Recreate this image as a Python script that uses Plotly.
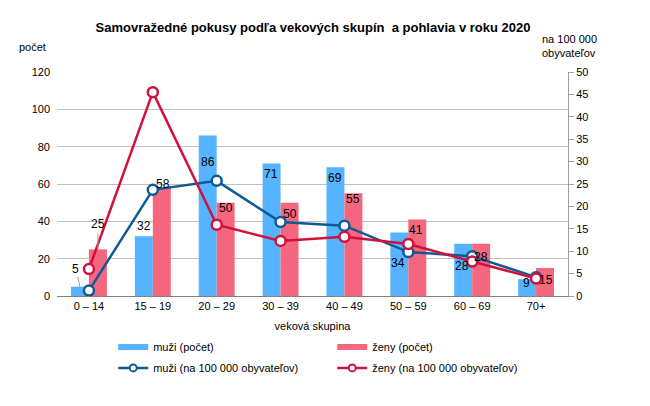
import plotly.graph_objects as go

categories = ["0 – 14", "15 – 19", "20 – 29", "30 – 39", "40 – 49", "50 – 59", "60 – 69", "70+"]
muzi_pocet = [5, 32, 86, 71, 69, 34, 28, 9]
zeny_pocet = [25, 58, 50, 50, 55, 41, 28, 15]
muzi_na100k = [1.2, 23.7, 25.7, 16.5, 15.7, 9.8, 8.9, 4.2]
zeny_na100k = [6.0, 45.5, 15.9, 12.3, 13.2, 11.6, 7.7, 3.9]

left_ticks = [0, 20, 40, 60, 80, 100, 120]
right_ticks = [0, 5, 10, 15, 20, 25, 30, 35, 40, 45, 50]

# label placement offsets in pixels (xshift, yshift) relative to bar top
muzi_label_off = [(-4, 18), (0, 10), (0, -27), (-1, -11), (0, -11), (-1, -30), (-1, -22), (-1, -4)]
zeny_label_off = [(0, 25), (1, 4), (0, -5), (0, -11), (0, -6), (-1, -11), (0, -13), (1, -12)]

C_M_BAR = "#55B3FF"
C_Z_BAR = "#F4677F"
C_M_LINE = "#0E5A95"
C_Z_LINE = "#D1103B"
FONT = "Liberation Sans, Arial, sans-serif"

fig = go.Figure()
fig.add_trace(go.Bar(x=categories, y=muzi_pocet, name="muži (počet)", marker_color=C_M_BAR,
                     marker_line_width=0, showlegend=False))
fig.add_trace(go.Bar(x=categories, y=zeny_pocet, name="ženy (počet)", marker_color=C_Z_BAR,
                     marker_line_width=0, showlegend=False))
fig.add_trace(go.Scatter(x=categories, y=muzi_na100k, name="muži (na 100 000 obyvateľov)", yaxis="y2",
                         mode="lines+markers", line=dict(color=C_M_LINE, width=2.5),
                         marker=dict(size=10, color="white", line=dict(color=C_M_LINE, width=2.5)),
                         showlegend=False))
fig.add_trace(go.Scatter(x=categories, y=zeny_na100k, name="ženy (na 100 000 obyvateľov)", yaxis="y2",
                         mode="lines+markers", line=dict(color=C_Z_LINE, width=2.5),
                         marker=dict(size=10, color="white", line=dict(color=C_Z_LINE, width=2.5)),
                         showlegend=False))
# legend entries styled like the original (wide bar swatches, small line markers)
fig.add_trace(go.Scatter(x=[None], y=[None], mode="lines", name="muži (počet)",
                         line=dict(color=C_M_BAR, width=6), legend="legend"))
fig.add_trace(go.Scatter(x=[None], y=[None], mode="lines", name="ženy (počet)",
                         line=dict(color=C_Z_BAR, width=6), legend="legend"))
fig.add_trace(go.Scatter(x=[None], y=[None], mode="lines+markers", name="muži (na 100 000 obyvateľov)",
                         line=dict(color=C_M_LINE, width=2.5),
                         marker=dict(size=7, color="white", line=dict(color=C_M_LINE, width=2)),
                         legend="legend2"))
fig.add_trace(go.Scatter(x=[None], y=[None], mode="lines+markers", name="ženy (na 100 000 obyvateľov)",
                         line=dict(color=C_Z_LINE, width=2.5),
                         marker=dict(size=7, color="white", line=dict(color=C_Z_LINE, width=2)),
                         legend="legend2"))

annotations = []
for series, offs, base_dx in ((muzi_pocet, muzi_label_off, -9), (zeny_pocet, zeny_label_off, 9)):
    for i, (c, v) in enumerate(zip(categories, series)):
        dx, dy = offs[i]
        if i == 0:
            annotations.append(dict(x=c, y=v, xref="x", yref="y", text=str(v), xshift=base_dx,
                                    showarrow=True, arrowhead=0, arrowwidth=1, arrowcolor="#A0A0A0",
                                    ax=dx, ay=-dy, standoff=0,
                                    font=dict(size=12, color="black", family=FONT)))
        else:
            annotations.append(dict(x=c, y=v, xref="x", yref="y", text=str(v), xshift=base_dx + dx,
                                    yshift=dy, showarrow=False,
                                    font=dict(size=12, color="black", family=FONT)))

annotations += [
    dict(x=(32 - 57) / 511, y=(296 - 47) / 224, xref="paper", yref="paper", text="počet",
         showarrow=False, xanchor="center", yanchor="middle", font=dict(size=11)),
    dict(x=(569 - 57) / 511, y=(296 - 46) / 224, xref="paper", yref="paper",
         text="na 100 000<br>obyvateľov", showarrow=False, xanchor="center", yanchor="middle",
         align="left", font=dict(size=11)),
]

fig.update_layout(
    width=650, height=406,
    margin=dict(l=57, r=82, t=72, b=110),
    paper_bgcolor="white", plot_bgcolor="white",
    font=dict(family=FONT, size=11, color="black"),
    title=dict(text="<b>Samovražedné pokusy podľa vekových skupín  a pohlavia v roku 2020</b>",
               x=313 / 650, xanchor="center", y=1 - 27 / 406, yanchor="middle",
               font=dict(size=13, family=FONT, color="black")),
    barmode="group", bargap=0.4375, bargroupgap=0,
    xaxis=dict(showline=True, linecolor="#808080", linewidth=1, ticks="", showgrid=False,
               tickfont=dict(size=11), title=dict(text="veková skupina", font=dict(size=11), standoff=11)),
    yaxis=dict(range=[0, 120], tickvals=left_ticks, showgrid=True, gridcolor="#C0C0C0", gridwidth=1,
               showline=False, ticks="", zeroline=False, tickfont=dict(size=11), ticklabelstandoff=6),
    yaxis2=dict(range=[0, 50], tickvals=right_ticks, overlaying="y", side="right", showgrid=False,
                showline=True, linecolor="#A0A0A0", ticks="outside", ticklen=5, tickcolor="#A0A0A0",
                zeroline=False, tickfont=dict(size=11)),
    legend=dict(orientation="h", x=0.110, xanchor="left", y=-0.228, yanchor="middle",
                entrywidth=174, entrywidthmode="pixels", font=dict(size=11), bgcolor="rgba(0,0,0,0)"),
    legend2=dict(orientation="h", x=0.110, xanchor="left", y=-0.321, yanchor="middle",
                 entrywidth=174, entrywidthmode="pixels", font=dict(size=11), bgcolor="rgba(0,0,0,0)"),
    annotations=annotations,
)

fig.write_html("out.html", config={"displayModeBar": False},
               post_script="document.body.style.margin='0';")
